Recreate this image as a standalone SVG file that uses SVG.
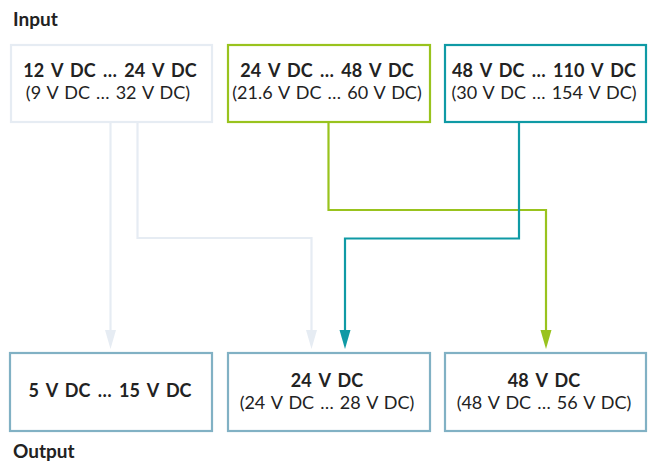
<svg xmlns="http://www.w3.org/2000/svg" width="648" height="463" viewBox="0 0 648 463">
<style>
text{font-family:Lato,"Open Sans","DejaVu Sans",sans-serif;fill:#222;}
.t{font-size:18px;font-weight:700;text-anchor:middle;word-spacing:3px;}
.s{font-size:18px;font-weight:400;text-anchor:middle;word-spacing:1.5px;}
.h{font-size:19px;font-weight:700;}
.box{fill:#fff;stroke-width:2.2;}
.light{stroke:#e6ecf3;}
.green{stroke:#99c31e;}
.teal{stroke:#0f9aa5;}
.out{stroke:#81b1c4;}
.c{fill:none;stroke-width:2.2;}
</style>
<text class="h" x="13" y="26">Input</text>
<text class="h" x="13" y="458">Output</text>
<g id="connectors">
<path class="c light" d="M110.5,122 V331" />
<path d="M105,330 L116,330 L110.5,349 Z" fill="#e6ecf3"/>
<path class="c light" d="M137.5,122 V238 H311.5 V331" />
<path d="M306,330 L317,330 L311.5,349 Z" fill="#e6ecf3"/>
<path class="c green" d="M328.5,122 V210 H546 V331" />
<path d="M540.5,330 L551.5,330 L546,349 Z" fill="#99c31e"/>
<path class="c teal" d="M519,122 V238.5 H345 V331" />
<path d="M339.5,330 L350.5,330 L345,349 Z" fill="#0f9aa5"/>
</g>
<g id="in1">
<rect class="box light" x="11" y="45" width="201" height="77"/>
<text class="t" x="110" y="77">12 V DC … 24 V DC</text>
<text class="s" x="108" y="99">(9 V DC … 32 V DC)</text>
</g>
<g id="in2">
<rect class="box green" x="228" y="45" width="202" height="77"/>
<text class="t" x="327" y="77">24 V DC … 48 V DC</text>
<text class="s" x="327" y="99">(21.6 V DC … 60 V DC)</text>
</g>
<g id="in3">
<rect class="box teal" x="445" y="45" width="201" height="77"/>
<text class="t" x="544" y="77">48 V DC … 110 V DC</text>
<text class="s" x="544" y="99">(30 V DC … 154 V DC)</text>
</g>
<g id="out1">
<rect class="box out" x="10" y="353" width="202" height="78"/>
<text class="t" x="110" y="397">5 V DC … 15 V DC</text>
</g>
<g id="out2">
<rect class="box out" x="228" y="353" width="202" height="78"/>
<text class="t" x="327" y="387">24 V DC</text>
<text class="s" x="327" y="409">(24 V DC … 28 V DC)</text>
</g>
<g id="out3">
<rect class="box out" x="445" y="353" width="201" height="78"/>
<text class="t" x="544" y="387">48 V DC</text>
<text class="s" x="544" y="409">(48 V DC … 56 V DC)</text>
</g>
</svg>
